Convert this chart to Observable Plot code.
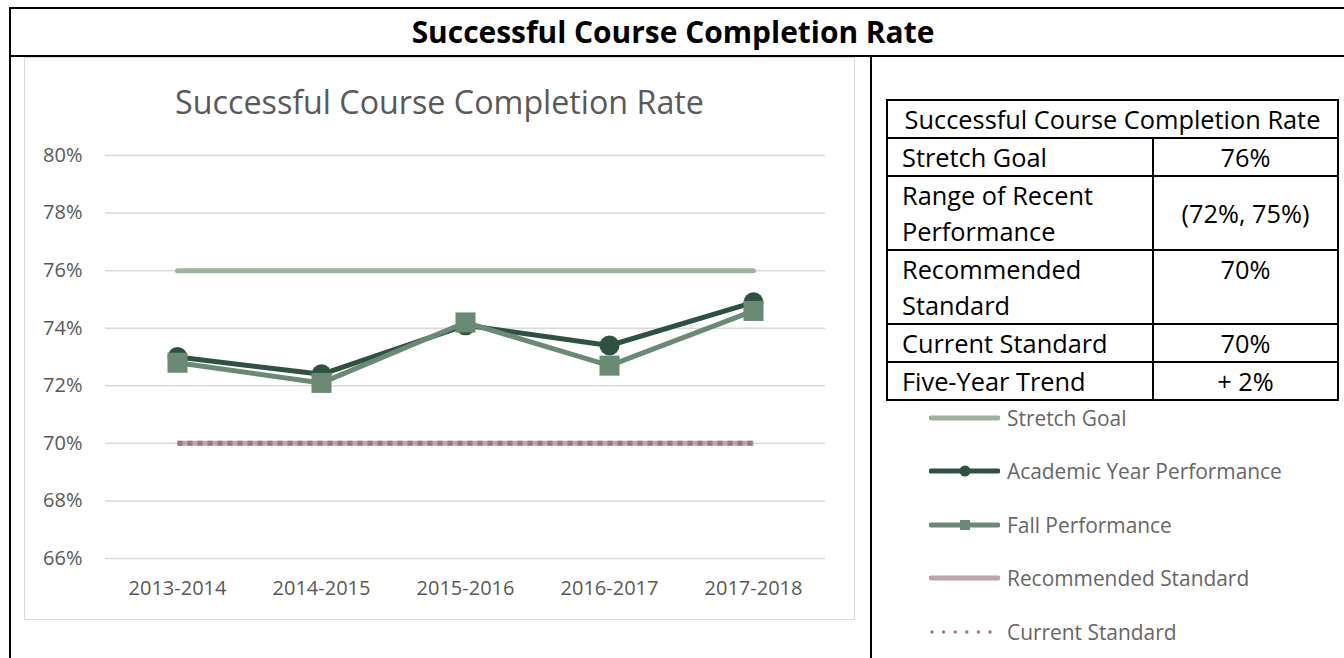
<!DOCTYPE html>
<html>
<head>
<meta charset="utf-8">
<script src="https://cdn.jsdelivr.net/npm/d3@7"></script>
<script src="https://cdn.jsdelivr.net/npm/@observablehq/plot@0.6"></script>
<style>
html, body { margin:0; padding:0; background:#fff; width:1344px; height:658px; overflow:hidden; font-family:"Open Sans", sans-serif; }
.hline { position:absolute; height:2px; background:#000; }
.vline { position:absolute; width:2px; background:#000; }
#mainTitle { position:absolute; left:10px; width:1326px; top:8px; height:48px; line-height:48px; text-align:center; font-weight:700; font-size:29px; color:#000; white-space:nowrap; }
#chartBox { position:absolute; left:24px; top:57px; width:829px; height:561px; border:1px solid #d9d9d9; }
#chartTitle { position:absolute; left:24px; width:831px; top:80px; height:44px; line-height:44px; text-align:center; font-size:31px; font-weight:400; color:#595959; white-space:nowrap; }
#plot { position:absolute; left:24px; top:56px; }
#info { position:absolute; left:886px; top:99px; border-collapse:collapse; font-size:24px; color:#000; table-layout:fixed; }
#info td { border:2px solid #000; padding:0 0 0 14px; line-height:36px; vertical-align:middle; white-space:nowrap; }
#info td.val { text-align:center; padding:0; }
#info td.top { vertical-align:top; }
#info td.head { text-align:center; padding:0; }
#legend { position:absolute; left:929px; top:395px; }
.li { position:absolute; left:0; height:30px; display:flex; align-items:center; white-space:nowrap; font-size:19px; color:#666; }
.li svg { margin-right:7px; }
</style>
</head>
<body>
<div class="hline" style="left:10px; top:7px; width:1334px;"></div>
<div class="hline" style="left:10px; top:55px; width:1334px;"></div>
<div class="vline" style="left:9px; top:7px; height:651px;"></div>
<div class="vline" style="left:870px; top:55px; height:603px;"></div>
<div id="mainTitle"></div>
<div id="chartBox"></div>
<div id="plot"></div>
<div id="chartTitle"></div>
<table id="info"></table>
<div id="legend"></div>
<script>
// ---- data ----
const titleText = "Successful Course Completion Rate";
const years = ["2013-2014", "2014-2015", "2015-2016", "2016-2017", "2017-2018"];
const academicYear = [73.0, 72.4, 74.1, 73.4, 74.9];
const fallPerf = [72.8, 72.1, 74.2, 72.7, 74.6];
const stretchGoal = [76, 76, 76, 76, 76];
const recommendedStd = [70, 70, 70, 70, 70];
const currentStd = [70, 70, 70, 70, 70];
const yTicks = [66, 68, 70, 72, 74, 76, 78, 80];
const seriesNames = ["Stretch Goal", "Academic Year Performance", "Fall Performance", "Recommended Standard", "Current Standard"];
const tableLabels = ["Stretch Goal", "Range of Recent<br>Performance", "Recommended<br>Standard", "Current Standard", "Five-Year Trend"];
const tableValues = ["76%", "(72%, 75%)", "70%", "70%", "+ 2%"];

const colors = {
  stretch: "#9fb19f",
  academic: "#2f5141",
  fall: "#6a8a75",
  recommended: "#bda3ac",
  current: "#9a787d"
};

document.getElementById("mainTitle").textContent = titleText;
document.getElementById("chartTitle").textContent = titleText;

const rows = years.map((y, i) => ({
  year: y, academic: academicYear[i], fall: fallPerf[i],
  stretch: stretchGoal[i], recommended: recommendedStd[i], current: currentStd[i]
}));

const chart = Plot.plot({
  width: 830, height: 563,
  marginLeft: 81, marginRight: 29, marginTop: 99, marginBottom: 61,
  style: { fontFamily: "Open Sans", fontSize: "20px", color: "#595959", background: "transparent" },
  x: { type: "point", domain: years, padding: 0.5, label: null, tickSize: 0, tickPadding: 22 },
  y: { domain: [66, 80], ticks: yTicks, tickFormat: d => d + "%", label: null, tickSize: 0, tickPadding: 23 },
  marks: [
    Plot.gridY(yTicks, { stroke: "#d9d9d9", strokeOpacity: 1, strokeWidth: 1.5 }),
    Plot.lineY(rows, { x: "year", y: "stretch", stroke: colors.stretch, strokeWidth: 5, strokeLinecap: "round" }),
    Plot.lineY(rows, { x: "year", y: "recommended", stroke: colors.recommended, strokeWidth: 5, strokeLinecap: "butt" }),
    Plot.lineY(rows, { x: "year", y: "current", stroke: colors.current, strokeWidth: 5, strokeDasharray: "5,5", strokeLinecap: "butt" }),
    Plot.lineY(rows, { x: "year", y: "academic", stroke: colors.academic, strokeWidth: 5 }),
    Plot.dot(rows, { x: "year", y: "academic", r: 10, fill: colors.academic, symbol: "circle" }),
    Plot.lineY(rows, { x: "year", y: "fall", stroke: colors.fall, strokeWidth: 5 }),
    Plot.dot(rows, { x: "year", y: "fall", r: 11.3, fill: colors.fall, symbol: "square" })
  ]
});
document.getElementById("plot").appendChild(chart);

// ---- table ----
const tbl = document.getElementById("info");
const rowHeights = [73, 73];
let html = `<colgroup><col style="width:266px"><col style="width:185px"></colgroup>`;
html += `<tr style="height:37px"><td class="head" colspan="2">${titleText}</td></tr>`;
const hts = [36, 74, 73, 37, 38];
tableLabels.forEach((lab, i) => {
  const cls = i === 2 ? "val top" : "val";
  html += `<tr style="height:${hts[i]}px"><td>${lab}</td><td class="${cls}">${tableValues[i]}</td></tr>`;
});
tbl.innerHTML = html;

// ---- legend ----
const leg = document.getElementById("legend");
const legY = [23, 76, 130, 183, 237];
seriesNames.forEach((name, i) => {
  let sw = "";
  if (i === 0) sw = `<line x1="2" y1="8" x2="69" y2="8" stroke="${colors.stretch}" stroke-width="5" stroke-linecap="round"/>`;
  if (i === 1) sw = `<line x1="2" y1="8" x2="69" y2="8" stroke="${colors.academic}" stroke-width="5" stroke-linecap="round"/><circle cx="36" cy="8" r="5.5" fill="${colors.academic}"/>`;
  if (i === 2) sw = `<line x1="2" y1="8" x2="69" y2="8" stroke="${colors.fall}" stroke-width="5" stroke-linecap="round"/><rect x="31" y="3" width="10" height="10" fill="${colors.fall}"/>`;
  if (i === 3) sw = `<line x1="2" y1="8" x2="69" y2="8" stroke="${colors.recommended}" stroke-width="5" stroke-linecap="round"/>`;
  if (i === 4) sw = `<line x1="3" y1="8" x2="68" y2="8" stroke="${colors.current}" stroke-width="3.5" stroke-linecap="round" stroke-dasharray="0,11.6"/>`;
  const d = document.createElement("div");
  d.className = "li";
  d.style.top = (legY[i] - 15) + "px";
  d.innerHTML = `<svg width="71" height="16">${sw}</svg><span>${name}</span>`;
  leg.appendChild(d);
});

// ---- fit text widths to the reference ----
function fitWidth(el, target) {
  const span = document.createElement("span");
  span.style.font = getComputedStyle(el).font;
  span.style.whiteSpace = "nowrap";
  span.style.position = "absolute";
  span.style.visibility = "hidden";
  span.textContent = el.textContent;
  document.body.appendChild(span);
  const w = span.getBoundingClientRect().width;
  document.body.removeChild(span);
  const fs = parseFloat(getComputedStyle(el).fontSize);
  return fs * target / w;
}
const mt = document.getElementById("mainTitle");
mt.style.fontSize = fitWidth(mt, 523) + "px";
const ct = document.getElementById("chartTitle");
ct.style.fontSize = fitWidth(ct, 529) + "px";
const headCell = tbl.querySelector("td.head");
const tfs = fitWidth(headCell, 416);
tbl.style.fontSize = tfs + "px";
const legSpan = leg.children[1].querySelector("span");
const lfs = fitWidth(legSpan, 275);
leg.querySelectorAll(".li").forEach(e => e.style.fontSize = lfs + "px");
</script>
</body>
</html>
